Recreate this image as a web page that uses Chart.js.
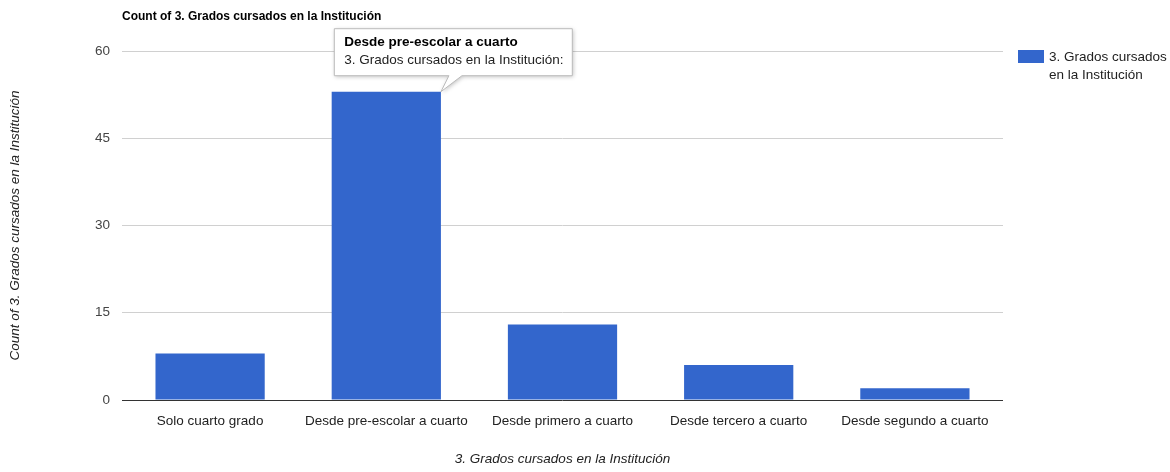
<!DOCTYPE html>
<html>
<head>
<meta charset="utf-8">
<title>Grados cursados en la Institución</title>
<script src="https://cdn.jsdelivr.net/npm/chart.js@4/dist/chart.umd.min.js"></script>
<style>
  html, body { margin: 0; padding: 0; background: #fff; }
  #wrap { width: 1170px; height: 472px; position: relative; }
</style>
</head>
<body>
<div id="wrap"><canvas id="grados"></canvas></div>
<script>
const categories = [
    'Solo cuarto grado',
    'Desde pre-escolar a cuarto',
    'Desde primero a cuarto',
    'Desde tercero a cuarto',
    'Desde segundo a cuarto'
];
const counts = [8, 53, 13, 6, 2];
const yTicks = [0, 15, 30, 45, 60];

const seriesName = '3. Grados cursados en la Institución';
const chartTitle = 'Count of 3. Grados cursados en la Institución';
const legendLines = ['3. Grados cursados', 'en la Institución'];
const hoverIndex = 1;

const FONT = '"Liberation Sans", Arial, sans-serif';
const BLUE = '#3366cc';
const TXT = 13.5;

// title, legend and the hover card are painted by hand
const extras = {
    id: 'extras',
    afterDraw(chart) {
        const ctx = chart.ctx;
        const area = chart.chartArea;
        ctx.save();

        ctx.fillStyle = '#000';
        ctx.font = 'bold 12px ' + FONT;
        ctx.textBaseline = 'middle';
        ctx.textAlign = 'left';
        ctx.fillText(chartTitle, area.left, 17);

        // legend
        const lx = area.right + 15;
        ctx.fillStyle = BLUE;
        ctx.fillRect(lx, 50, 26, 13);
        ctx.fillStyle = '#222';
        ctx.font = TXT + 'px ' + FONT;
        legendLines.forEach((t, i) => ctx.fillText(t, lx + 31, 57 + i * 18));

        // hover card over the second bar
        const bar = chart.getDatasetMeta(0).data[hoverIndex];
        const bx = bar.x - 52, by = bar.y - 63, bw = 238, bh = 47;
        const tipX = bar.x + bar.width / 2, tipY = bar.y;
        ctx.shadowColor = 'rgba(0,0,0,0.25)';
        ctx.shadowBlur = 4;
        ctx.shadowOffsetX = 1;
        ctx.shadowOffsetY = 1;
        ctx.beginPath();
        ctx.moveTo(bx, by);
        ctx.lineTo(bx + bw, by);
        ctx.lineTo(bx + bw, by + bh);
        ctx.lineTo(tipX + 21, by + bh);
        ctx.lineTo(tipX, tipY);
        ctx.lineTo(tipX + 8, by + bh);
        ctx.lineTo(bx, by + bh);
        ctx.closePath();
        ctx.fillStyle = '#fff';
        ctx.fill();
        ctx.shadowColor = 'transparent';
        ctx.strokeStyle = '#bbb';
        ctx.lineWidth = 1;
        ctx.stroke();

        ctx.fillStyle = '#000';
        ctx.font = 'bold ' + TXT + 'px ' + FONT;
        ctx.fillText(categories[hoverIndex], bx + 10, by + 14);
        ctx.fillStyle = '#222';
        ctx.font = TXT + 'px ' + FONT;
        ctx.fillText(seriesName + ':', bx + 10, by + 32);
        ctx.restore();
    }
};

new Chart(document.getElementById('grados'), {
    type: 'bar',
    data: {
        labels: categories,
        datasets: [{
            label: seriesName,
            data: counts,
            backgroundColor: BLUE,
            categoryPercentage: 1,
            barPercentage: 0.62
        }]
    },
    options: {
        responsive: true,
        maintainAspectRatio: false,
        animation: false,
        layout: { padding: { top: 51, right: 167, bottom: 0, left: 0 } },
        plugins: {
            legend: { display: false },
            tooltip: { enabled: false }
        },
        scales: {
            x: {
                grid: { display: false },
                border: { display: false },
                ticks: {
                    color: '#222',
                    padding: 5,
                    maxRotation: 0,
                    font: { family: FONT, size: TXT }
                },
                title: {
                    display: true,
                    text: seriesName,
                    color: '#222',
                    padding: { top: 0, bottom: 5 },
                    font: { family: FONT, size: TXT, style: 'italic' }
                },
                afterFit(scale) { scale.height = 72; }
            },
            y: {
                min: 0,
                max: 60,
                afterBuildTicks(scale) {
                    scale.ticks = yTicks.map(v => ({ value: v }));
                },
                grid: {
                    drawTicks: false,
                    color: c => c.tick && c.tick.value === 0 ? '#333' : '#d0d0d0'
                },
                border: { display: false },
                ticks: {
                    color: '#444',
                    padding: 12,
                    font: { family: FONT, size: TXT }
                },
                title: {
                    display: true,
                    text: chartTitle,
                    color: '#222',
                    padding: { top: 7, bottom: 0 },
                    font: { family: FONT, size: TXT, style: 'italic' }
                },
                afterFit(scale) { scale.width = 122; }
            }
        }
    },
    plugins: [extras]
});
</script>
</body>
</html>
